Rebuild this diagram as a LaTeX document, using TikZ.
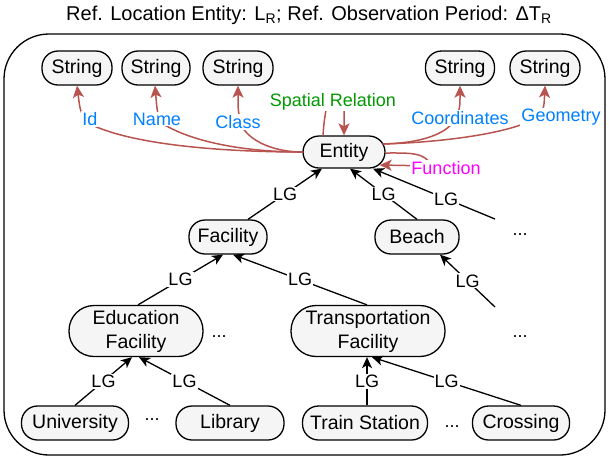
\documentclass[tikz,border=0pt]{standalone}
\usepackage{fontspec}
\setmainfont{Liberation Sans}
\usetikzlibrary{arrows.meta}
\definecolor{relred}{HTML}{B85450}
\definecolor{relblue}{HTML}{007FFF}
\definecolor{relgreen}{HTML}{009900}
\definecolor{relpink}{HTML}{FF00FF}
\definecolor{boxgray}{HTML}{F5F5F5}
\begin{document}
\begin{tikzpicture}[x=1pt,y=-1pt,
  cls/.style={draw, fill=boxgray, line width=1.3pt, rounded corners=16pt, minimum height=34pt, inner sep=0pt, align=center, font=\fontsize{19.5}{24}\selectfont},
  cls2/.style={cls, rounded corners=25pt, minimum height=51pt},
  lg/.style={fill=white, inner sep=1pt, font=\fontsize{18}{20}\selectfont},
  rlab/.style={fill=white, inner sep=1pt, text=relblue, font=\fontsize{18}{20}\selectfont},
  dots/.style={anchor=base, font=\fontsize{18}{20}\selectfont},
  isa/.style={line width=1.3pt, -{Stealth[length=11pt,width=10pt,inset=3pt]}},
  rel/.style={relred, line width=1.5pt, -{Stealth[length=12pt,width=11pt,inset=3pt]}}]
\useasboundingbox (0,0) rectangle (609,459);
\node[anchor=base, font=\fontsize{20}{24}\selectfont] (title) at (309,20) {Ref. Location Entity: L\textsubscript{R}; Ref. Observation Period: ΔT\textsubscript{R}};
\draw[line width=1.3pt, rounded corners=45pt] (4,34) rectangle (605,455);

\node[cls, minimum width=70pt] (s1) at (77,68) {String};
\node[cls, minimum width=68pt] (s2) at (156,68) {String};
\node[cls, minimum width=70pt] (s3) at (238,68) {String};
\node[cls, minimum width=69pt] (s4) at (460,68) {String};
\node[cls, minimum width=70pt] (s5) at (545,68) {String};
\node[cls, minimum width=82pt, minimum height=32pt] (ent) at (344,152) {Entity};
\node[cls, minimum width=78pt] (fac) at (228,237) {Facility};
\node[cls, minimum width=84pt] (beach) at (417,237) {Beach};
\node[cls2, minimum width=134pt] (edu) at (136,331) {Education\\Facility};
\node[cls2, minimum width=154pt] (trans) at (368,331) {Transportation\\Facility};
\node[cls, minimum width=107pt] (uni) at (75,423) {University};
\node[cls, minimum width=108pt] (lib) at (230,423) {Library};
\node[cls, minimum width=125pt] (train) at (365,423) {Train Station};
\node[cls, minimum width=97pt] (cross) at (521,423) {Crossing};

\node[dots] (d1) at (520,235) {...};
\node[dots] (d2) at (219,337) {...};
\node[dots] (d3) at (520,337) {...};
\node[dots] (d4) at (152,420) {...};
\node[dots] (d5) at (452,427) {...};
\coordinate (e1) at (495,219);
\coordinate (e2) at (495,307);

% LG links
\draw[isa] ([xshift=20pt]fac.north) to node[lg]{LG} ([xshift=-22pt]ent.south);
\draw[isa] (beach.north) to node[lg]{LG} ([xshift=6pt]ent.south);
\draw[isa] (e1) to node[lg, pos=0.4]{LG} ([xshift=29pt]ent.south);
\draw[isa] ([xshift=2pt]edu.north) to node[lg]{LG} ([xshift=-5pt]fac.south);
\draw[isa] ([xshift=-1pt]trans.north) to node[lg]{LG} ([xshift=5pt]fac.south);
\draw[isa] (e2) to node[lg]{LG} ([xshift=23pt]beach.south);
\draw[isa] (uni.north) to node[lg]{LG} ([xshift=-4pt]edu.south);
\draw[isa] (lib.north) to node[lg]{LG} ([xshift=3pt]edu.south);
\draw[isa] ([xshift=2pt]train.north) to node[lg]{LG} ([xshift=-1pt]trans.south);
\draw[isa] (cross.north) to node[lg]{LG} ([xshift=4pt]trans.south);

% attributes and relations
\draw[rel] (ent.west) .. controls (230,152) and (130,146) .. (86,122) .. controls (80,110) .. (s1.south);
\draw[rel] (ent.west) .. controls (245,152) and (190,142) .. (160,122) .. controls (157,110) .. ([xshift=-1pt]s2.south);
\draw[rel] (ent.west) .. controls (275,152) and (250,142) .. (241,125) .. controls (238,110) .. (s3.south);
\draw[rel] ([xshift=-3pt,yshift=8pt]ent.east) .. controls (420,143) and (445,135) .. (455,120) .. controls (460,108) .. (s4.south);
\draw[rel] ([xshift=-3pt,yshift=8pt]ent.east) .. controls (450,142) and (515,132) .. (538,117) .. controls (544,108) .. (s5.south);
\draw[rel] ([xshift=-21pt]ent.north) .. controls (324,122) .. (327,104) .. controls (332,92) and (344,92) .. (344,104) -- (ent.north);
\draw[rel] ([yshift=-1pt]ent.east) .. controls (410,153) and (425,152) .. (432,166) -- ([xshift=-6pt,yshift=-13pt]ent.east);
\node[rlab] (lid) at (90,119) {Id};
\node[rlab] (lname) at (157,119) {Name};
\node[rlab] (lclass) at (238,122) {Class};
\node[rlab, text=relgreen] (lspat) at (333,102) {Spatial Relation};
\node[rlab] (lcoord) at (460,118) {Coordinates};
\node[rlab] (lgeom) at (561,117) {Geometry};
\node[rlab, text=relpink] (lfunc) at (446,168) {Function};
\end{tikzpicture}
\end{document}
